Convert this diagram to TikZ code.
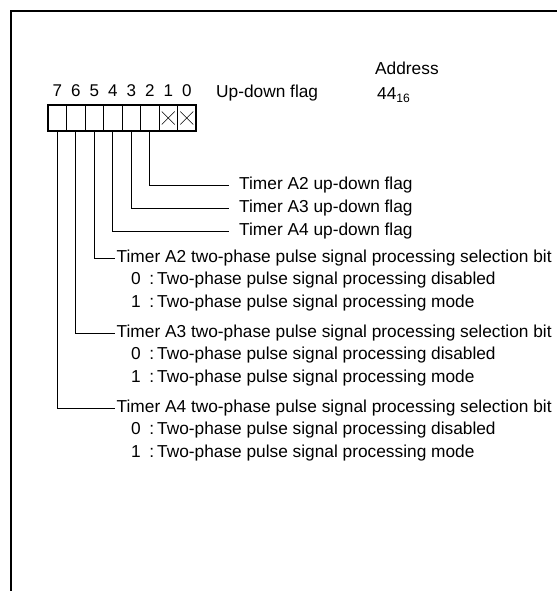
\documentclass[tikz,border=0pt]{standalone}
\usepackage{fontspec}
\setmainfont{Liberation Sans}
\usetikzlibrary{positioning}
\tikzset{
  bitcell/.style={draw, line width=0.7pt, minimum width=18.5pt, minimum height=26pt, inner sep=0pt, outer sep=0pt},
  bitnum/.style={font=\fontsize{17}{20}\selectfont, inner sep=0pt},
  lbl/.style={font=\fontsize{17.3}{20}\selectfont, anchor=west, inner ysep=0pt, inner xsep=0pt},
  udlbl/.style={lbl, inner xsep=10pt},
  sellbl/.style={lbl, inner xsep=1.5pt},
  lead/.style={line width=0.8pt},
  frame/.style={line width=1.8pt},
}

\begin{document}
\begin{tikzpicture}[x=1pt, y=-1pt]
  \useasboundingbox (0,0) rectangle (557,591);
  \draw[frame] (11,591) -- (11,11) -- (557,11);
  % register bits
  \foreach \b in {0,...,7} {
    \node[bitcell] (c\b) at ({196-18.5*(\b+0.5)},118) {};
    \node[bitnum, above=8pt of c\b] (n\b) {\b};
  }
  \draw[line width=1.6pt] (c7.north west) rectangle (c0.south east);
  \foreach \b in {0,1} {
    \draw ([xshift=-6.5pt,yshift=6.5pt]c\b.center) -- ([xshift=6.5pt,yshift=-6.5pt]c\b.center);
    \draw ([xshift=-6.5pt,yshift=-6.5pt]c\b.center) -- ([xshift=6.5pt,yshift=6.5pt]c\b.center);
  }
  \node[lbl] (regname) at (216,93) {Up-down flag};
  \node[lbl] (addrhd) at (375,68) {Address};
  \node[lbl] (addr) at (377,95) {44\textsubscript{16}};
  % up-down flags
  \foreach \t/\b/\y in {2/2/185, 3/3/208, 4/4/231} {
    \node[udlbl] (ud\t) at (229,\y) {Timer A\t{} up-down flag};
    \draw[lead] (c\b.south) |- (ud\t.west);
  }
  % two-phase selection bits
  \foreach \t/\b/\y in {2/5/258, 3/6/333, 4/7/408} {
    \node[sellbl] (tp\t) at (115,\y) {Timer A\t{} two-phase pulse signal processing selection bit};
    \node[lbl] (tp\t z) at (131,\y+22.5) {0\enspace:\,Two-phase pulse signal processing disabled};
    \node[lbl] (tp\t o) at (131,\y+45) {1\enspace:\,Two-phase pulse signal processing mode};
    \draw[lead] (c\b.south) |- (tp\t.west);
  }
\end{tikzpicture}
\end{document}
